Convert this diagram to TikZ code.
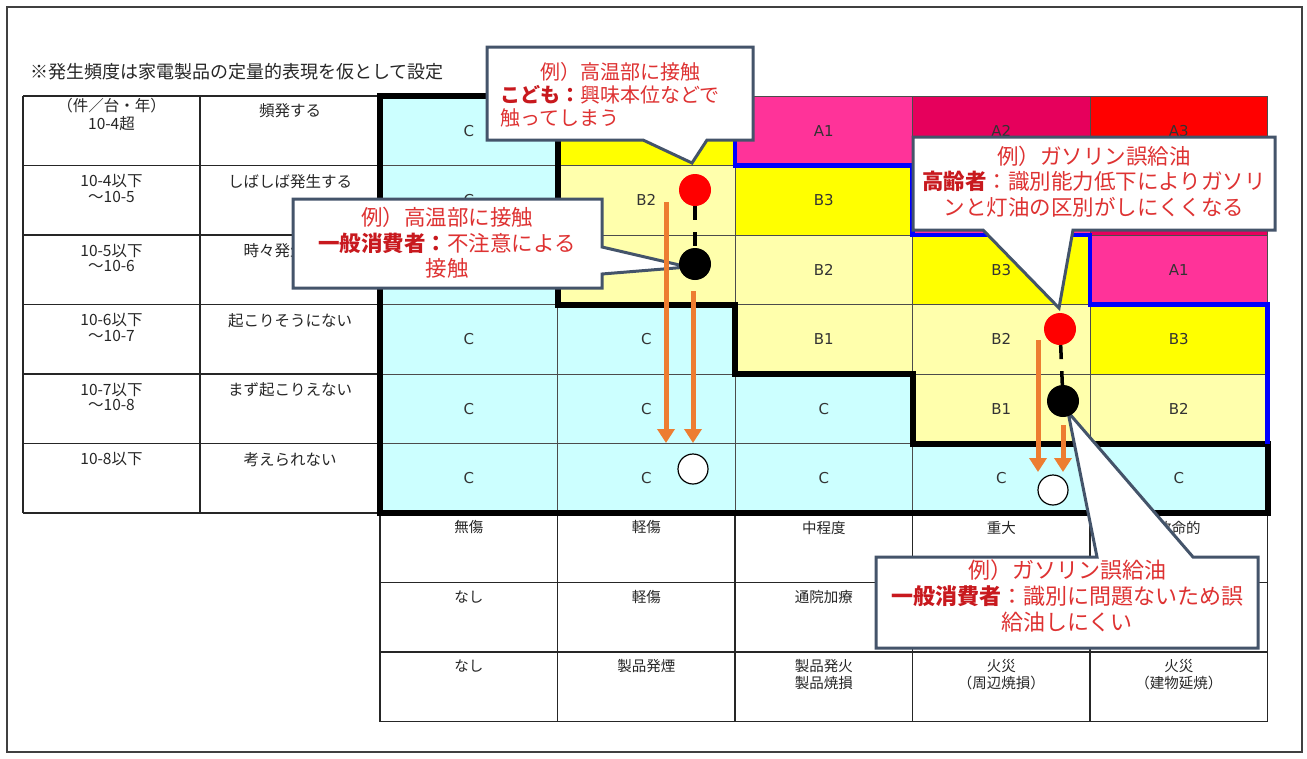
\documentclass[tikz,border=0pt]{standalone}
\usepackage{fontspec}
\setmainfont{DejaVu Sans}
\newfontfamily\jp{Noto Sans CJK JP}
\newfontfamily\lat{DejaVu Sans}
\usetikzlibrary{arrows.meta}
\definecolor{cC}{RGB}{204,255,255}
\definecolor{lY}{RGB}{255,255,172}
\definecolor{yB}{RGB}{255,255,0}
\definecolor{pAa}{RGB}{255,51,153}
\definecolor{pAb}{RGB}{230,0,92}
\definecolor{pAc}{RGB}{255,0,0}
\definecolor{orA}{RGB}{237,125,49}
\definecolor{cbd}{RGB}{68,84,106}
\definecolor{redN}{RGB}{222,50,50}
\definecolor{redB}{RGB}{200,25,30}
\definecolor{bluL}{RGB}{0,0,255}
\newcommand\mcell[4]{%
  \fill[#3] ({380+177.5*(#1-1)},{96+69.5*(#2-1)}) rectangle ++(177.5,69.5);
  \node[celltxt] (c#1#2) at ({380+177.5*(#1-0.5)},{96+69.5*(#2-0.5)}) {#4};}
\begin{document}
\begin{tikzpicture}[x=1pt,y=-1pt,
  celltxt/.style={inner sep=0pt,text=black!80,font=\lat\fontsize{15}{16}\selectfont},
  ltab/.style={inner sep=0pt,text=black!85,font=\jp\fontsize{15.5}{16}\selectfont},
  btab/.style={inner sep=0pt,text=black!85,font=\jp\fontsize{14.5}{15}\selectfont},
  gridln/.style={line width=1pt,black!70},
  tabln/.style={line width=1.2pt,black!85},
  thickC/.style={line width=6pt,black,line join=miter},
  blueB/.style={line width=4.5pt,bluL,line join=miter},
  callout/.style={fill=white,draw=cbd,line width=3pt,line join=miter},
  ctxt/.style={inner sep=0pt,text=redN,font=\jp\fontsize{21.5}{25}\selectfont},
  ctxtS/.style={inner sep=0pt,text=redN,font=\jp\fontsize{20}{23}\selectfont},
  dotR/.style={circle,fill=red,minimum size=32pt,inner sep=0pt},
  dotK/.style={circle,fill=black,minimum size=32pt,inner sep=0pt},
  dotW/.style={circle,fill=white,draw=black,line width=1.2pt,minimum size=30pt,inner sep=0pt},
  dashK/.style={line width=3.5pt,black,dash pattern=on 14pt off 12pt},
  oarrow/.style={line width=5pt,orA,-{Triangle[width=17pt,length=14pt]}}]
\useasboundingbox (0,0) rectangle (1307,758);
\fill[white] (0,0) rectangle (1307,758);
\draw[line width=1.5pt,black!75] (7,7) rectangle (1302,752);
% note
\node[inner sep=0pt,anchor=west,text=black!85,font=\jp\fontsize{18}{20}\selectfont] (note) at (30,72) {※発生頻度は家電製品の定量的表現を仮として設定};
% matrix cells
\mcell{1}{1}{cC}{C}\mcell{2}{1}{yB}{}\mcell{3}{1}{pAa}{A1}\mcell{4}{1}{pAb}{A2}\mcell{5}{1}{pAc}{A3}
\mcell{1}{2}{cC}{C}\mcell{2}{2}{lY}{B2}\mcell{3}{2}{yB}{B3}\mcell{4}{2}{pAa}{}\mcell{5}{2}{pAb}{}
\mcell{1}{3}{cC}{}\mcell{2}{3}{lY}{}\mcell{3}{3}{lY}{B2}\mcell{4}{3}{yB}{B3}\mcell{5}{3}{pAa}{A1}
\mcell{1}{4}{cC}{C}\mcell{2}{4}{cC}{C}\mcell{3}{4}{lY}{B1}\mcell{4}{4}{lY}{B2}\mcell{5}{4}{yB}{B3}
\mcell{1}{5}{cC}{C}\mcell{2}{5}{cC}{C}\mcell{3}{5}{cC}{C}\mcell{4}{5}{lY}{B1}\mcell{5}{5}{lY}{B2}
\mcell{1}{6}{cC}{C}\mcell{2}{6}{cC}{C}\mcell{3}{6}{cC}{C}\mcell{4}{6}{cC}{C}\mcell{5}{6}{cC}{C}
\foreach \i in {0,...,5} \draw[gridln] ({380+177.5*\i},96) -- ({380+177.5*\i},513);
\foreach \j in {0,...,6} \draw[gridln] (380,{96+69.5*\j}) -- (1267.5,{96+69.5*\j});
% left table
\foreach \j in {0,...,6} \draw[tabln] (23,{96+69.5*\j}) -- (380,{96+69.5*\j});
\draw[tabln] (23,96) -- (23,513);
\draw[tabln] (200,96) -- (200,513);
\node[ltab] (L1a) at (111.5,106) {（件／台・年）};
\node[ltab] (L1b) at (111.5,124) {10-4超};
\node[ltab] (L1c) at (290,111) {頻発する};
\node[ltab] (L2a) at (111.5,181.5) {10-4以下};
\node[ltab] (L2b) at (111.5,196.5) {～10-5};
\node[ltab] (L2c) at (290,181.5) {しばしば発生する};
\node[ltab] (L3a) at (111.5,251) {10-5以下};
\node[ltab] (L3b) at (111.5,266) {～10-6};
\node[ltab] (L3c) at (290,251) {時々発生する};
\node[ltab] (L4a) at (111.5,320.5) {10-6以下};
\node[ltab] (L4b) at (111.5,335.5) {～10-7};
\node[ltab] (L4c) at (290,320.5) {起こりそうにない};
\node[ltab] (L5a) at (111.5,390) {10-7以下};
\node[ltab] (L5b) at (111.5,405) {～10-8};
\node[ltab] (L5c) at (290,390) {まず起こりえない};
\node[ltab] (L6a) at (111.5,459.5) {10-8以下};
\node[ltab] (L6c) at (290,459.5) {考えられない};
% bottom table
\foreach \j in {1,2,3} \draw[tabln] (380,{513+69.5*\j}) -- (1267.5,{513+69.5*\j});
\foreach \i in {0,...,5} \draw[tabln] ({380+177.5*\i},513) -- ({380+177.5*\i},721.5);
\node[btab] (B1a) at (468.75,527.5) {無傷};
\node[btab] (B1b) at (646.25,527.5) {軽傷};
\node[btab] (B1c) at (823.75,527.5) {中程度};
\node[btab] (B1d) at (1001.25,527.5) {重大};
\node[btab] (B1e) at (1178.75,527.5) {致命的};
\node[btab] (B2a) at (468.75,597) {なし};
\node[btab] (B2b) at (646.25,597) {軽傷};
\node[btab] (B2c) at (823.75,597) {通院加療};
\node[btab] (B3a) at (468.75,666) {なし};
\node[btab] (B3b) at (646.25,666) {製品発煙};
\node[btab] (B3c) at (823.75,666) {製品発火};
\node[btab] (B3cc) at (823.75,683) {製品焼損};
\node[btab] (B3d) at (1001.25,666) {火災};
\node[btab] (B3dd) at (1001.25,683) {（周辺焼損）};
\node[btab] (B3e) at (1178.75,666) {火災};
\node[btab] (B3ee) at (1178.75,683) {（建物延焼）};
% boundaries
\draw[thickC] (380,96) -- (557.5,96) -- (557.5,304.5) -- (735,304.5) -- (735,374) -- (912.5,374) -- (912.5,443.5) -- (1267.5,443.5) -- (1267.5,513) -- (380,513) -- cycle;
\draw[blueB] (735,96) -- (735,165.5) -- (912.5,165.5) -- (912.5,235) -- (1090,235) -- (1090,304.5) -- (1267.5,304.5) -- (1267.5,443.5);
% callouts
\draw[callout] (487,47) -- (753,47) -- (753,140) -- (707,140) -- (692,163) -- (643,140) -- (487,140) -- cycle;
\node[ctxtS] (k1a) at (620,72) {例）高温部に接触};
\node[ctxtS,anchor=west] (k1b) at (500,95) {{\bfseries\color{redB}こども：}興味本位などで};
\node[ctxtS,anchor=west] (k1c) at (500,118) {触ってしまう};
\draw[callout] (293,199) -- (602,199) -- (602,247) -- (688,267) -- (602,274) -- (602,288) -- (293,288) -- cycle;
\node[ctxt] (k2a) at (447,217) {例）高温部に接触};
\node[ctxt] (k2b) at (447,243) {{\bfseries\color{redB}一般消費者：}不注意による};
\node[ctxt] (k2c) at (447,268) {接触};
\draw[callout] (913,137) -- (1275,137) -- (1275,230) -- (1073,230) -- (1059,308) -- (983,230) -- (913,230) -- cycle;
\node[ctxt] (k3a) at (1094,156) {例）ガソリン誤給油};
\node[ctxt] (k3b) at (1094,181) {{\bfseries\color{redB}高齢者}：識別能力低下によりガソリ};
\node[ctxt] (k3c) at (1094,207) {ンと灯油の区別がしにくくなる};
\draw[callout] (876,557) -- (1097,557) -- (1068,412) -- (1193,557) -- (1258,557) -- (1258,648) -- (876,648) -- cycle;
\node[ctxt,font=\jp\fontsize{22}{25}\selectfont] (k4a) at (1067,570) {例）ガソリン誤給油};
\node[ctxt,font=\jp\fontsize{22}{25}\selectfont] (k4b) at (1067,596) {{\bfseries\color{redB}一般消費者}：識別に問題ないため誤};
\node[ctxt,font=\jp\fontsize{22}{25}\selectfont] (k4c) at (1067,622) {給油しにくい};
% arrows
\coordinate (a1s) at (666,202); \coordinate (a1e) at (666,443);
\coordinate (a2s) at (693,291); \coordinate (a2e) at (693,443);
\coordinate (a3s) at (1038,340); \coordinate (a3e) at (1038,472);
\coordinate (a4s) at (1063,425); \coordinate (a4e) at (1063,472);
\draw[oarrow] (a1s) -- (a1e);
\draw[oarrow] (a2s) -- (a2e);
\draw[oarrow] (a3s) -- (a3e);
\draw[oarrow] (a4s) -- (a4e);
% dots
\node[dotR] (r1) at (695,190) {};
\node[dotK] (d1) at (695,264) {};
\node[dotW] (w1) at (693,469) {};
\node[dotR] (r2) at (1060,329) {};
\node[dotK] (d2) at (1063,401) {};
\node[dotW] (w2) at (1053,490) {};
\draw[dashK] (r1) -- (d1);
\draw[dashK] (r2) -- (d2);
\end{tikzpicture}
\end{document}
